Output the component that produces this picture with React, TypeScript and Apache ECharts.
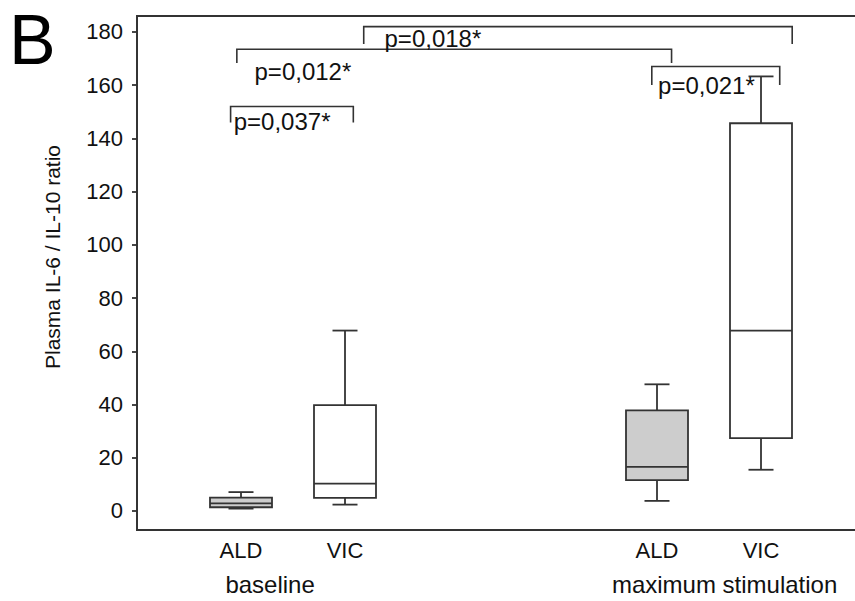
import React, { useEffect, useRef } from 'react';
import * as echarts from 'echarts';

// ---- data ----
const categories = ['ALD', 'VIC', 'ALD', 'VIC'];
const categoryPos = [1, 2, 5, 6];
const groups = ['baseline', 'maximum stimulation'];
const groupPos = [1.28, 5.65];

const boxMin = [0.9, 2.4, 3.8, 15.5];
const boxQ1 = [1.4, 4.9, 11.6, 27.4];
const boxMedian = [2.9, 10.3, 16.6, 67.8];
const boxQ3 = [5.0, 39.8, 37.8, 145.7];
const boxMax = [7.1, 67.8, 47.6, 163.3];

const yTicks = [0, 20, 40, 60, 80, 100, 120, 140, 160, 180];
const yTitle = 'Plasma IL-6 / IL-10 ratio';

const pLabels = ['p=0,037*', 'p=0,012*', 'p=0,018*', 'p=0,021*'];
const pFrom = [0.9, 0.96, 2.18, 4.95];
const pTo = [2.08, 5.14, 6.3, 6.18];
const pLevel = [152, 173.5, 182, 167];
const pDrop = [146, 168.3, 175.5, 160.1];
const pTextX = [0.93, 1.13, 2.38, 5.01];
const pTextY = [146.2, 165, 177.4, 159.7];

const FONT = 'Liberation Sans, Arial, Helvetica, sans-serif';
const INK = '#333';

export default function App() {
  const ref = useRef<HTMLDivElement>(null);
  useEffect(() => {
    if (!ref.current) return;
    const chart = echarts.init(ref.current, undefined, { renderer: 'svg' });
    const boxData = categoryPos.map((x, i) => [x, boxMin[i], boxQ1[i], boxMedian[i], boxQ3[i], boxMax[i]]);
    const bracketData = pLabels.map((_, i) => [pFrom[i], pLevel[i], pTo[i], pDrop[i], pTextX[i], pTextY[i]]);
    const lineStyle = { stroke: INK, lineWidth: 1.8 };
    chart.setOption({
      animation: false,
      backgroundColor: '#fff',
      grid: {
        left: 137, top: 16, width: 728, bottom: 71,
        containLabel: false, outerBoundsMode: 'none',
        show: true, borderColor: INK, borderWidth: 1.8, backgroundColor: 'transparent',
      },
      xAxis: [
        {
          type: 'value', min: 0, max: 7, position: 'bottom',
          axisLine: { show: true, onZero: false, lineStyle: { color: INK, width: 1.8 } },
          axisTick: { show: false },
          splitLine: { show: false },
          axisLabel: {
            customValues: categoryPos,
            formatter: (v: number) => categories[categoryPos.indexOf(v)] ?? '',
            fontSize: 22, color: '#111', fontFamily: FONT, margin: 9,
          },
        },
        {
          type: 'value', min: 0, max: 7, position: 'bottom',
          axisLine: { show: false, onZero: false },
          axisTick: { show: false },
          splitLine: { show: false },
          axisLabel: {
            customValues: groupPos,
            formatter: (v: number) => groups[groupPos.indexOf(v)] ?? '',
            fontSize: 24, color: '#111', fontFamily: FONT, margin: 42,
          },
        },
      ],
      yAxis: {
        type: 'value', min: -7.14, max: 186,
        axisLine: { show: true, onZero: false, lineStyle: { color: INK, width: 1.8 } },
        axisTick: { show: true, length: 5, customValues: yTicks, lineStyle: { color: INK, width: 1.8 } },
        splitLine: { show: false },
        axisLabel: { customValues: yTicks, fontSize: 22, color: '#111', fontFamily: FONT, margin: 14 },
      },
      series: [
        {
          type: 'custom',
          xAxisIndex: 0,
          data: boxData,
          renderItem: (params: any, api: any) => {
            const x = api.value(0);
            const c = (v: number) => api.coord([x, v]);
            const pMin = c(api.value(1));
            const pQ1 = c(api.value(2));
            const pMed = c(api.value(3));
            const pQ3 = c(api.value(4));
            const pMax = c(api.value(5));
            const cx = pMin[0];
            const bw = 62;
            const cw = 25;
            const fill = categories[params.dataIndex] === 'ALD' ? '#cdcdcd' : '#fff';
            return {
              type: 'group',
              children: [
                { type: 'line', shape: { x1: cx, y1: pMax[1], x2: cx, y2: pQ3[1] }, style: lineStyle },
                { type: 'line', shape: { x1: cx, y1: pQ1[1], x2: cx, y2: pMin[1] }, style: lineStyle },
                { type: 'line', shape: { x1: cx - cw / 2, y1: pMax[1], x2: cx + cw / 2, y2: pMax[1] }, style: lineStyle },
                { type: 'line', shape: { x1: cx - cw / 2, y1: pMin[1], x2: cx + cw / 2, y2: pMin[1] }, style: lineStyle },
                { type: 'rect', shape: { x: cx - bw / 2, y: pQ3[1], width: bw, height: pQ1[1] - pQ3[1] }, style: { ...lineStyle, fill } },
                { type: 'line', shape: { x1: cx - bw / 2, y1: pMed[1], x2: cx + bw / 2, y2: pMed[1] }, style: lineStyle },
              ],
            };
          },
        },
        {
          type: 'custom',
          xAxisIndex: 0,
          data: bracketData,
          renderItem: (params: any, api: any) => {
            const a = api.coord([api.value(0), api.value(1)]);
            const b = api.coord([api.value(2), api.value(1)]);
            const dropY = api.coord([api.value(0), api.value(3)])[1];
            const t = api.coord([api.value(4), api.value(5)]);
            return {
              type: 'group',
              children: [
                { type: 'polyline', shape: { points: [[a[0], dropY], a, b, [b[0], dropY]] }, style: { stroke: INK, lineWidth: 1.6, fill: 'none' } },
                { type: 'text', x: t[0], y: t[1], style: { text: pLabels[params.dataIndex], fontSize: 24, fontFamily: FONT, fill: '#111', align: 'left', verticalAlign: 'middle' } },
              ],
            };
          },
        },
      ],
      graphic: [
        { type: 'text', x: 9, y: 40, style: { text: 'B', fontSize: 70, fontFamily: FONT, fill: '#000', align: 'left', verticalAlign: 'middle' } },
        { type: 'text', x: 52, y: 257, rotation: Math.PI / 2, style: { text: yTitle, fontSize: 21, fontFamily: FONT, fill: '#111', align: 'center', verticalAlign: 'middle' } },
      ],
    });
    return () => chart.dispose();
  }, []);
  return <div ref={ref} style={{ width: 855, height: 601, position: 'absolute', left: 0, top: 0 }} />;
}
